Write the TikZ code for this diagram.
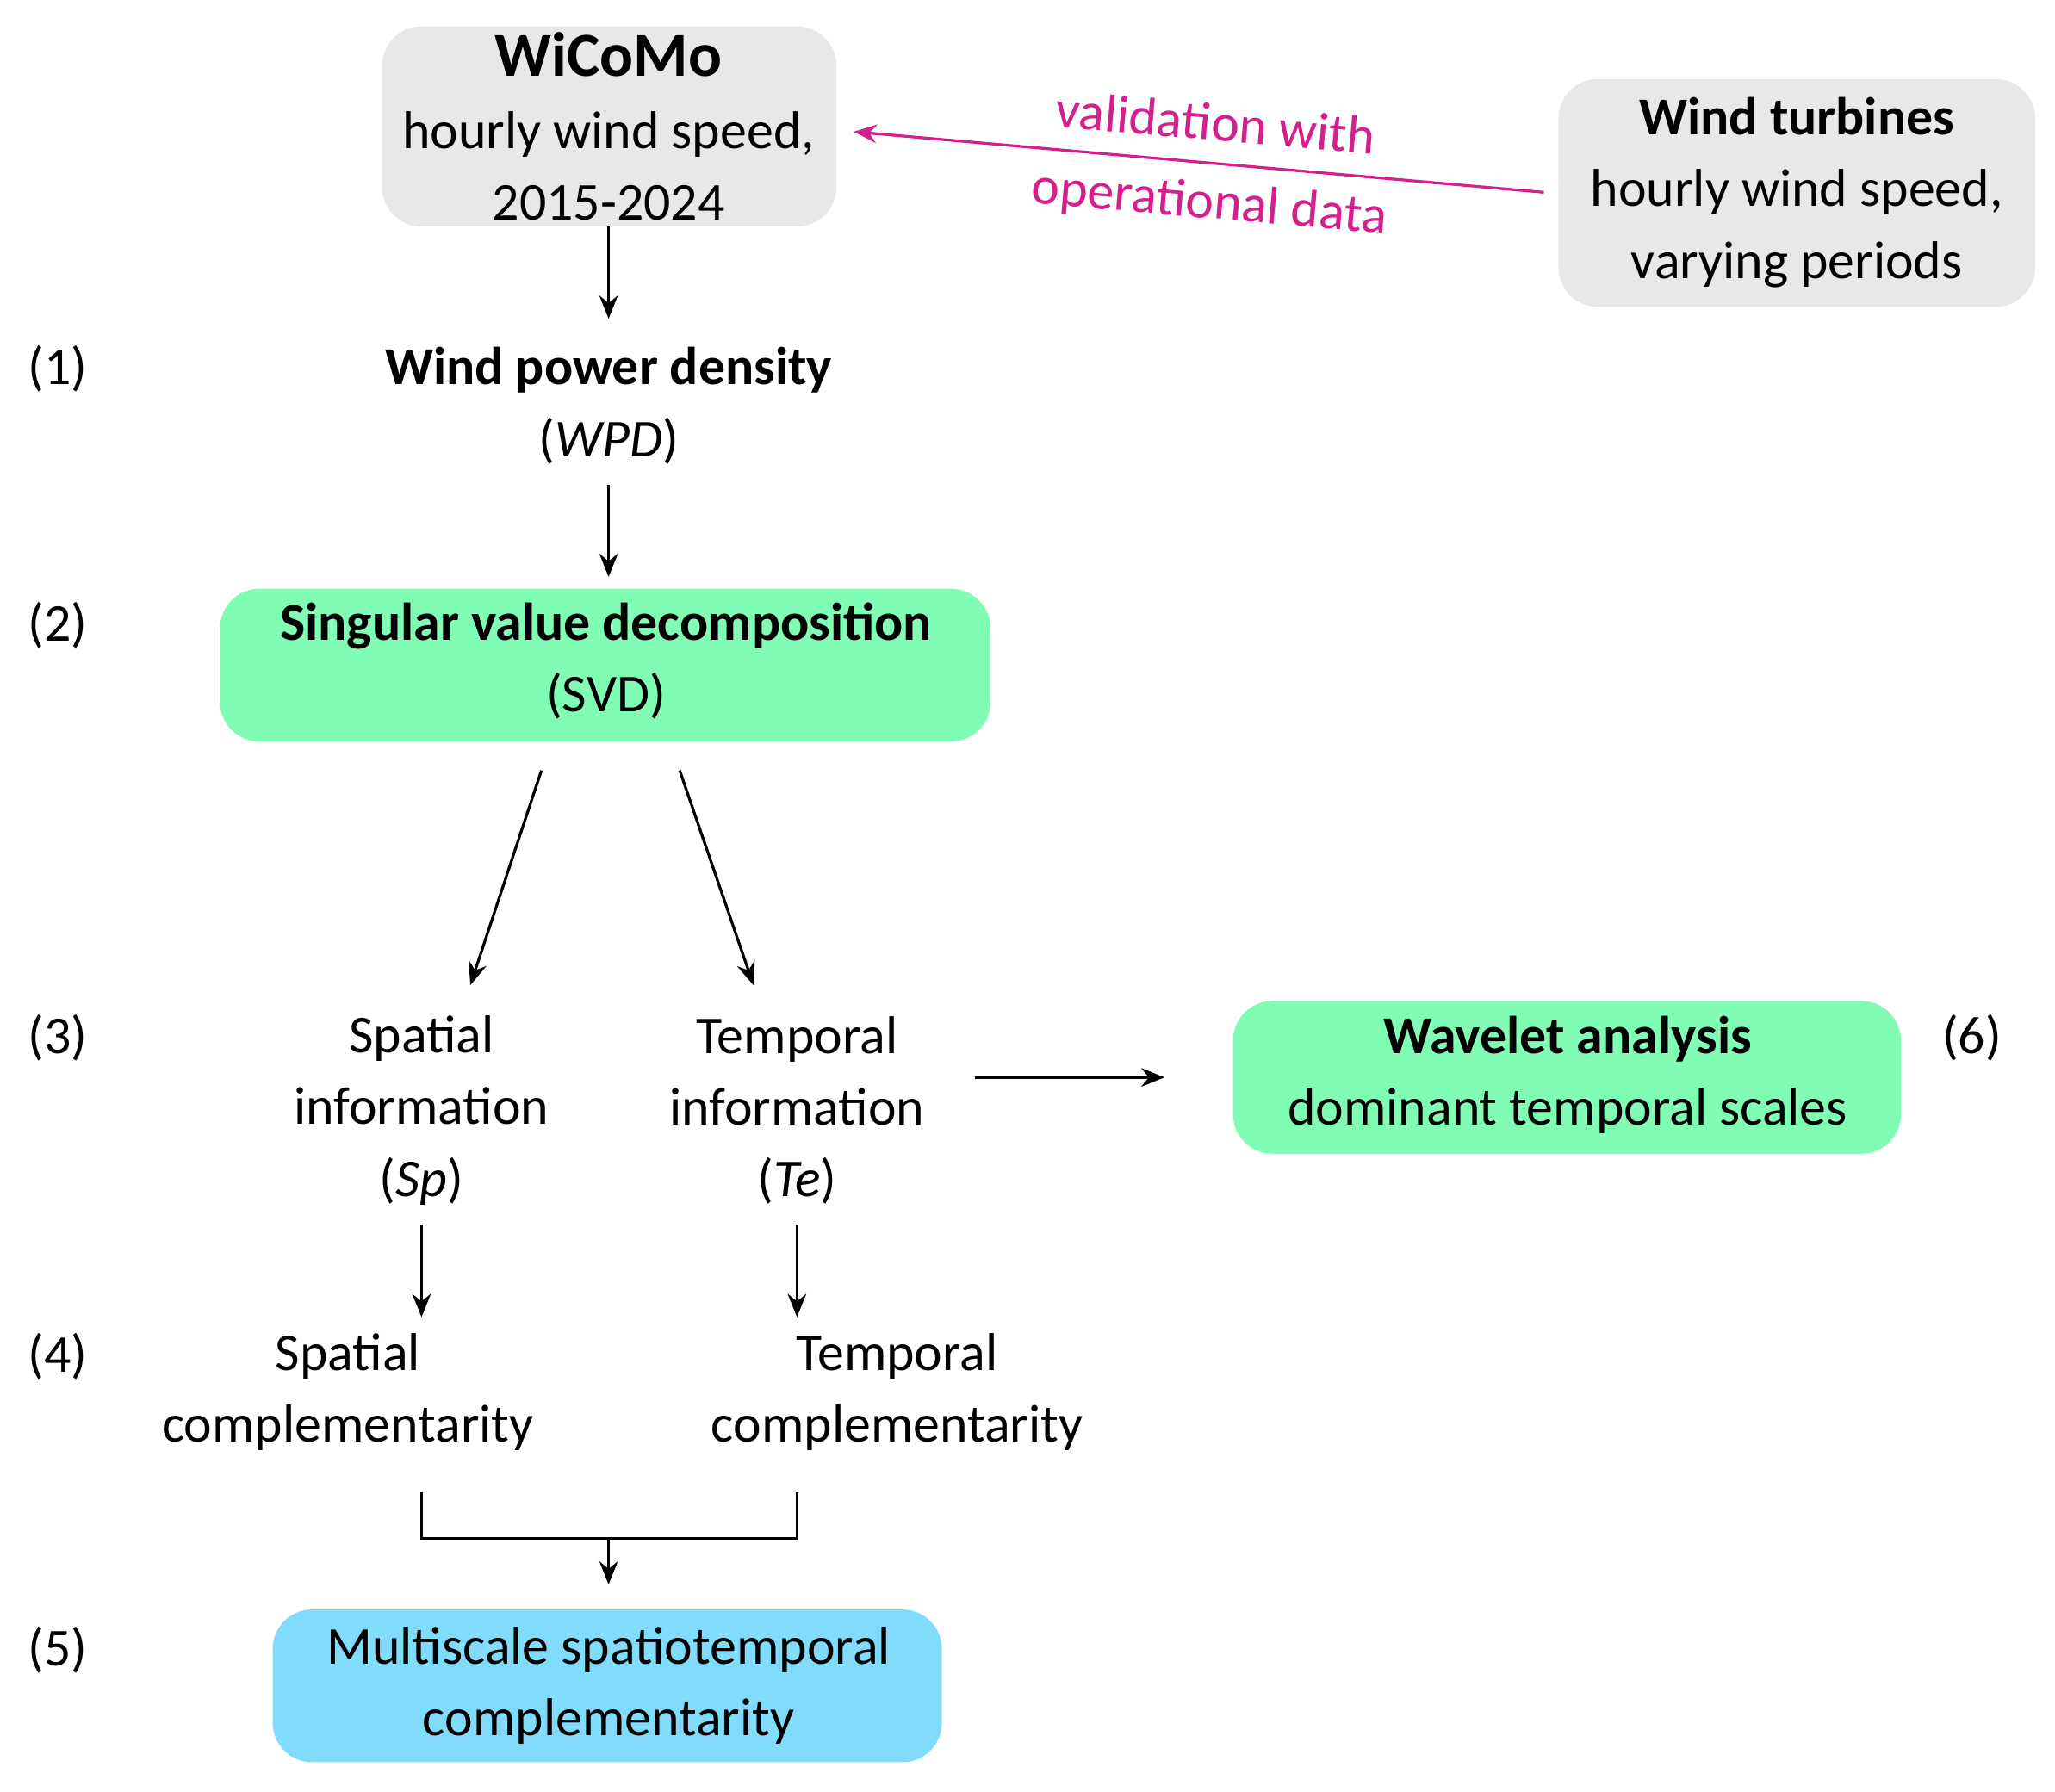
\documentclass[tikz,border=0pt]{standalone}
\usepackage{fontspec}
\setmainfont{Carlito}
\usetikzlibrary{arrows.meta}
\definecolor{boxgray}{HTML}{E8E8E8}
\definecolor{boxgreen}{HTML}{80FCB4}
\definecolor{boxblue}{HTML}{80DCFA}
\definecolor{mag}{HTML}{D4208C}
\begin{document}
\begin{tikzpicture}[x=0.01cm,y=-0.01cm,
  every node/.style={font=\fontsize{11.5}{15.5}\selectfont, align=center, inner sep=0pt},
  box/.style={rounded corners=0.3cm},
  arr/.style={-{Stealth[length=5pt,width=4pt]}, line width=0.6pt}]
\useasboundingbox (0,0) rectangle (1560,1360);
\fill[boxgray,box] (290,20) rectangle (635,172);
\fill[boxgray,box] (1183,60) rectangle (1545,233);
\fill[boxgreen,box] (167,447) rectangle (752,563);
\fill[boxgreen,box] (936,760) rectangle (1443,876);
\fill[boxblue,box] (207,1222) rectangle (715,1338);
\node (wicomo) at (462,96) {\textbf{\fontsize{13.5}{15}\selectfont WiCoMo}\\hourly wind speed,\\2015-2024};
\node (turb) at (1364,146) {\textbf{Wind turbines}\\hourly wind speed,\\varying periods};
\node (wpd) at (462,308) {\textbf{Wind power density}\\(\textit{WPD})};
\node (svd) at (460,502) {\textbf{Singular value decomposition}\\(SVD)};
\node (sp) at (320,843) {Spatial\\information\\(\textit{Sp})};
\node (te) at (605,843) {Temporal\\information\\(\textit{Te})};
\node (wav) at (1190,816) {\textbf{Wavelet analysis}\\dominant temporal scales};
\node (spc) at (264,1057) {Spatial\\complementarity};
\node (tec) at (681,1057) {Temporal\\complementarity};
\node (ms) at (462,1280) {Multiscale spatiotemporal\\complementarity};
\node (l1) at (44,280) {(1)};
\node (l2) at (44,475) {(2)};
\node (l3) at (44,788) {(3)};
\node (l4) at (44,1030) {(4)};
\node (l5) at (44,1253) {(5)};
\node (l6) at (1497,788) {(6)};
\coordinate (va) at (1172,146); \coordinate (vb) at (648,100);
\draw[arr, mag] (va) -- (vb);
\node[mag, rotate=-5] (val1) at (923,93) {validation with};
\node[mag, rotate=-5] (val2) at (918,155) {operational data};
\coordinate (a1) at (462,172); \coordinate (a2) at (462,242);
\draw[arr] (a1) -- (a2);
\coordinate (b1) at (462,368); \coordinate (b2) at (462,438);
\draw[arr] (b1) -- (b2);
\coordinate (c1) at (411,585); \coordinate (c2) at (357,748);
\coordinate (d1) at (516,585); \coordinate (d2) at (572,748);
\draw[arr] (c1) -- (c2); \draw[arr] (d1) -- (d2);
\coordinate (e1) at (740,818); \coordinate (e2) at (884,818);
\draw[arr] (e1) -- (e2);
\coordinate (f1) at (320,930); \coordinate (f2) at (320,1000);
\coordinate (g1) at (605,930); \coordinate (g2) at (605,1000);
\draw[arr] (f1) -- (f2); \draw[arr] (g1) -- (g2);
\coordinate (h1) at (320,1133); \coordinate (h2) at (605,1133);
\coordinate (hm) at (462,1168); \coordinate (h3) at (462,1203);
\draw[line width=0.6pt] (h1) |- (hm) -| (h2);
\draw[arr] (hm) -- (h3);
\end{tikzpicture}
\end{document}
